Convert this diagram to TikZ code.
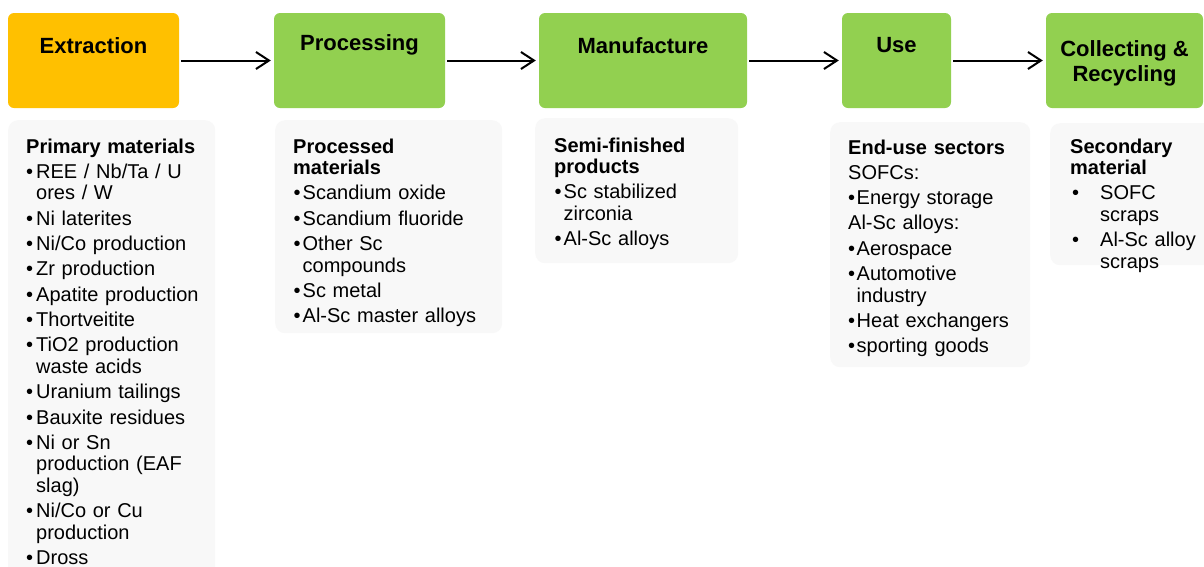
\documentclass[tikz,border=0pt]{standalone}
\usepackage{fontspec}
\setmainfont{Liberation Sans}
\usetikzlibrary{arrows.meta}
\definecolor{orangebox}{HTML}{FFC000}
\definecolor{greenbox}{HTML}{92D050}
\definecolor{panelgray}{HTML}{F8F8F8}
\newlength\bhang
\newlength\bpre
\newcommand\bitem[1]{\par\hangindent=\bhang\hangafter=1\noindent\makebox[\bhang][l]{\hspace{\bpre}•}#1}
\begin{document}
\begin{tikzpicture}[x=1pt,y=-1pt,
  stage/.style={rounded corners=6pt, minimum height=95pt, inner sep=0pt, draw=none},
  panel/.style={fill=panelgray, rounded corners=10pt, inner sep=0pt, anchor=north west, draw=none},
  head/.style={anchor=base, font=\fontsize{22}{25}\selectfont\bfseries, align=center, inner sep=0pt},
  list/.style={anchor=base west, inner sep=0pt, text width=320pt, font=\fontsize{20}{21.65}\selectfont},
  arr/.style={-{Straight Barb[length=13pt,width=17pt,line width=2pt]}, line width=2pt, shorten <=2pt, shorten >=3pt}]
\useasboundingbox (0,0) rectangle (1204,566);
\fill[white] (0,0) rectangle (1204,566);

% stage boxes
\node[stage, fill=orangebox, minimum width=171pt] (ext) at (93.5,60.5) {};
\node[stage, fill=greenbox, minimum width=171pt] (proc) at (359.5,60.5) {};
\node[stage, fill=greenbox, minimum width=208pt] (manu) at (643,60.5) {};
\node[stage, fill=greenbox, minimum width=109pt] (use) at (896.5,60.5) {};
\node[stage, fill=greenbox, minimum width=157pt] (coll) at (1124.5,60.5) {};

\node[head] (extT) at (93.5,53) {Extraction};
\node[head] (procT) at (359.5,50) {Processing};
\node[head] (manuT) at (643,53) {Manufacture};
\node[head] (useT) at (896.5,52) {Use};
\node[head] (collT) at (1124.5,81) {Collecting \&\\Recycling};

% arrows
\draw[arr] (ext) -- (proc);
\draw[arr] (proc) -- (manu);
\draw[arr] (manu) -- (use);
\draw[arr] (use) -- (coll);

% panels
\node[panel, minimum width=207pt, minimum height=470pt] (p1) at (8,120) {};
\node[panel, minimum width=227pt, minimum height=213pt] (p2) at (275,120) {};
\node[panel, minimum width=203pt, minimum height=145pt] (p3) at (535,118) {};
\node[panel, minimum width=200pt, minimum height=245pt] (p4) at (830,122) {};
\node[panel, minimum width=170pt, minimum height=142pt] (p5) at (1050,123) {};

% lists
\node[list] (t1) at (26,153) {\setlength{\parskip}{3.65pt}\setlength\bhang{10pt}\setlength\bpre{0pt}%
\textbf{Primary materials}%
\bitem{REE / Nb/Ta / U\newline ores / W}%
\bitem{Ni laterites}%
\bitem{Ni/Co production}%
\bitem{Zr production}%
\bitem{Apatite production}%
\bitem{Thortveitite}%
\bitem{TiO2 production\newline waste acids}%
\bitem{Uranium tailings}%
\bitem{Bauxite residues}%
\bitem{Ni or Sn\newline production (EAF\newline slag)}%
\bitem{Ni/Co or Cu\newline production}%
\bitem{Dross}\par};

\node[list] (t2) at (293,153) {\setlength{\parskip}{3.65pt}\setlength\bhang{9.5pt}\setlength\bpre{0.5pt}%
\textbf{Processed\newline materials}%
\bitem{Scandium oxide}%
\bitem{Scandium fluoride}%
\bitem{Other Sc\newline compounds}%
\bitem{Sc metal}%
\bitem{Al-Sc master alloys}\par};

\node[list] (t3) at (554,152) {\setlength{\parskip}{3.65pt}\setlength\bhang{9.5pt}\setlength\bpre{0.5pt}%
\textbf{Semi-finished\newline products}%
\bitem{Sc stabilized\newline zirconia}%
\bitem{Al-Sc alloys}\par};

\node[list] (t4) at (848,154) {\setlength{\parskip}{3.65pt}\setlength\bhang{8.5pt}\setlength\bpre{0pt}%
\textbf{End-use sectors}\par
SOFCs:%
\bitem{Energy storage}\par
Al-Sc alloys:%
\bitem{Aerospace}%
\bitem{Automotive\newline industry}%
\bitem{Heat exchangers}%
\bitem{sporting goods}\par};

\node[list] (t5) at (1070,153) {\setlength{\parskip}{3.65pt}\setlength\bhang{30pt}\setlength\bpre{2pt}%
\textbf{Secondary\newline material}%
\bitem{SOFC\newline scraps}%
\bitem{Al-Sc alloy\newline scraps}\par};
\end{tikzpicture}
\end{document}
